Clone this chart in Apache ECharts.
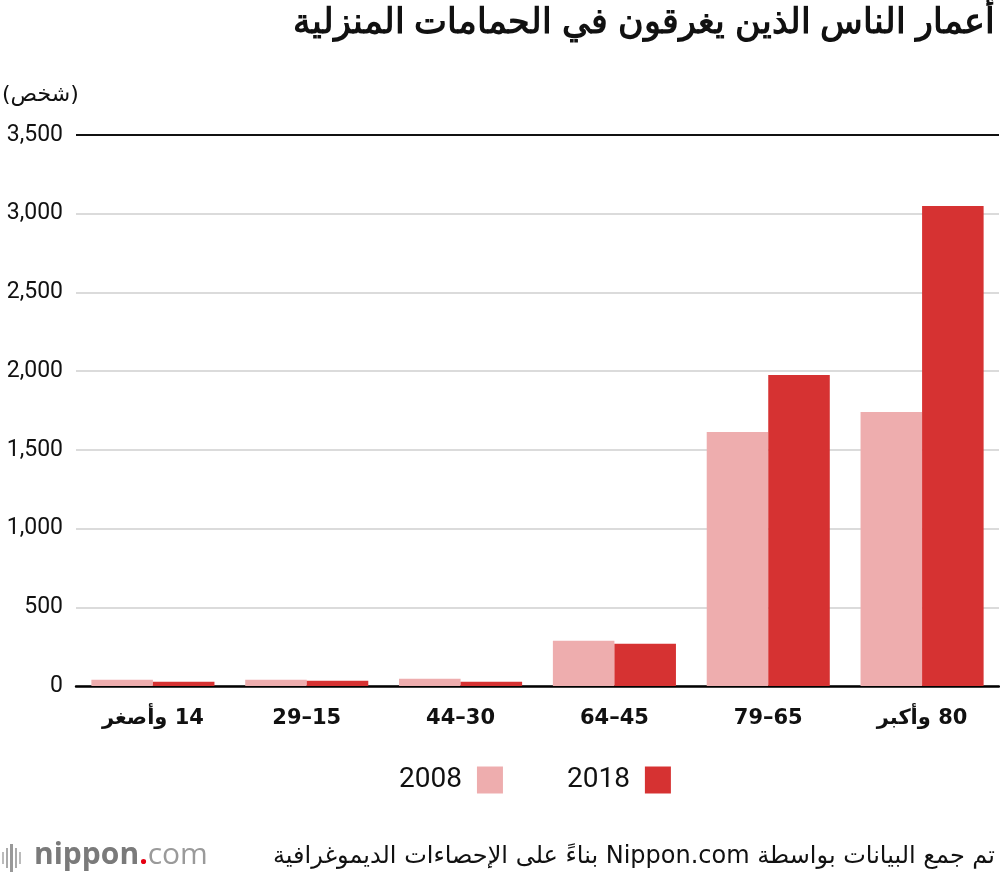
<!DOCTYPE html>
<html>
<head>
<meta charset="utf-8">
<script src="https://cdn.jsdelivr.net/npm/echarts@6/dist/echarts.min.js"></script>
<style>
html,body{margin:0;padding:0;background:#fff;}
#c{width:1000px;height:880px;}
</style>
</head>
<body>
<div id="c"></div>
<script>
const categories = ['14 وأصغر', '29–15', '44–30', '64–45', '79–65', '80 وأكبر'];
const seriesNames = ['2008', '2018'];
const values2008 = [40, 40, 46, 288, 1613, 1741];
const values2018 = [27, 34, 27, 269, 1976, 3049];
const yTicks = [0, 500, 1000, 1500, 2000, 2500, 3000, 3500];
const titleText = 'أعمار الناس الذين يغرقون في الحمامات المنزلية';
const unitText = '(شخص)';
const sourceText = 'تم جمع البيانات بواسطة Nippon.com بناءً على الإحصاءات الديموغرافية';

// Right-to-left word order: each word is its own rich-text token, placed from right to left
const rtl = (s, k) => s.split(' ').reverse().map(w => '{' + k + '|' + w + '}').join('{' + k + '| }');

const numFont = "'Roboto', sans-serif";
const arFont = "'DejaVu Sans', 'Noto Sans', sans-serif";

const chart = echarts.init(document.getElementById('c'), null, {renderer: 'canvas'});
chart.setOption({
  animation: false,
  backgroundColor: '#fff',
  grid: {left: 76, right: 1, top: 135, bottom: 194, containLabel: false},
  legend: {
    data: seriesNames,
    left: 394, top: 761,
    align: 'right',
    itemWidth: 26, itemHeight: 27,
    itemGap: 64,
    icon: 'rect',
    textStyle: {fontSize: 28, color: '#111', fontFamily: numFont, padding: [0, 10, 0, 0]}
  },
  xAxis: {
    type: 'category',
    data: categories,
    axisLine: {lineStyle: {color: '#000', width: 2.5}},
    axisTick: {show: false},
    axisLabel: {margin: 22,
      formatter: v => rtl(v, 'x'),
      rich: {x: {fontSize: 21, fontWeight: 'bold', color: '#111', fontFamily: arFont}}}
  },
  yAxis: {
    type: 'value',
    min: yTicks[0], max: yTicks[yTicks.length - 1], interval: 500,
    axisLine: {show: false},
    axisTick: {show: false},
    splitLine: {lineStyle: {color: '#cfcfcf', width: 1.5}},
    axisLabel: {fontSize: 23, color: '#111', margin: 13, fontFamily: numFont,
      formatter: v => v.toLocaleString('en-US')}
  },
  series: [
    {name: seriesNames[0], type: 'bar', data: values2008, barWidth: '40%', barGap: '0%',
     itemStyle: {color: '#EEADAE'}},
    {name: seriesNames[1], type: 'bar', data: values2018, barWidth: '40%', barGap: '0%',
     itemStyle: {color: '#D63232'},
     markLine: {silent: true, symbol: 'none', label: {show: false},
       lineStyle: {color: '#111', width: 2, type: 'solid'},
       data: [{yAxis: yTicks[yTicks.length - 1]}]}}
  ],
  graphic: [
    {type: 'text', right: 5, top: 6, style: {text: rtl(titleText, 't'),
      rich: {t: {fontSize: 35, fontWeight: 'bold', fill: '#111', fontFamily: 'sans-serif'}}}},
    {type: 'text', left: 2, top: 84, style: {text: unitText, fill: '#111', fontSize: 22, fontFamily: arFont}},
    {type: 'text', right: 5, top: 845, style: {text: rtl(sourceText, 's'),
      rich: {s: {fontSize: 24, fill: '#111', fontFamily: arFont}}}},
    {type: 'text', left: 34, top: 840, style: {
      text: '{a|nippon}{b|.}{c|com}',
      rich: {
        a: {fontSize: 30, fontWeight: 'bold', fill: '#7a7a7a', fontFamily: "'Open Sans', sans-serif"},
        b: {fontSize: 30, fontWeight: 'bold', fill: '#e60012', fontFamily: "'Open Sans', sans-serif"},
        c: {fontSize: 30, fill: '#9a9a9a', fontFamily: "'Open Sans', sans-serif"}
      }}},
    {type: 'group', left: 2, top: 844, children: [
      {type: 'rect', shape: {x: 0, y: 8, width: 2, height: 12}, style: {fill: '#bbb'}},
      {type: 'rect', shape: {x: 4, y: 4, width: 2, height: 20}, style: {fill: '#aaa'}},
      {type: 'rect', shape: {x: 8, y: 0, width: 3, height: 28}, style: {fill: '#999'}},
      {type: 'rect', shape: {x: 13, y: 4, width: 2, height: 20}, style: {fill: '#aaa'}},
      {type: 'rect', shape: {x: 17, y: 8, width: 2, height: 12}, style: {fill: '#bbb'}}
    ]}
  ]
});
</script>
</body>
</html>
